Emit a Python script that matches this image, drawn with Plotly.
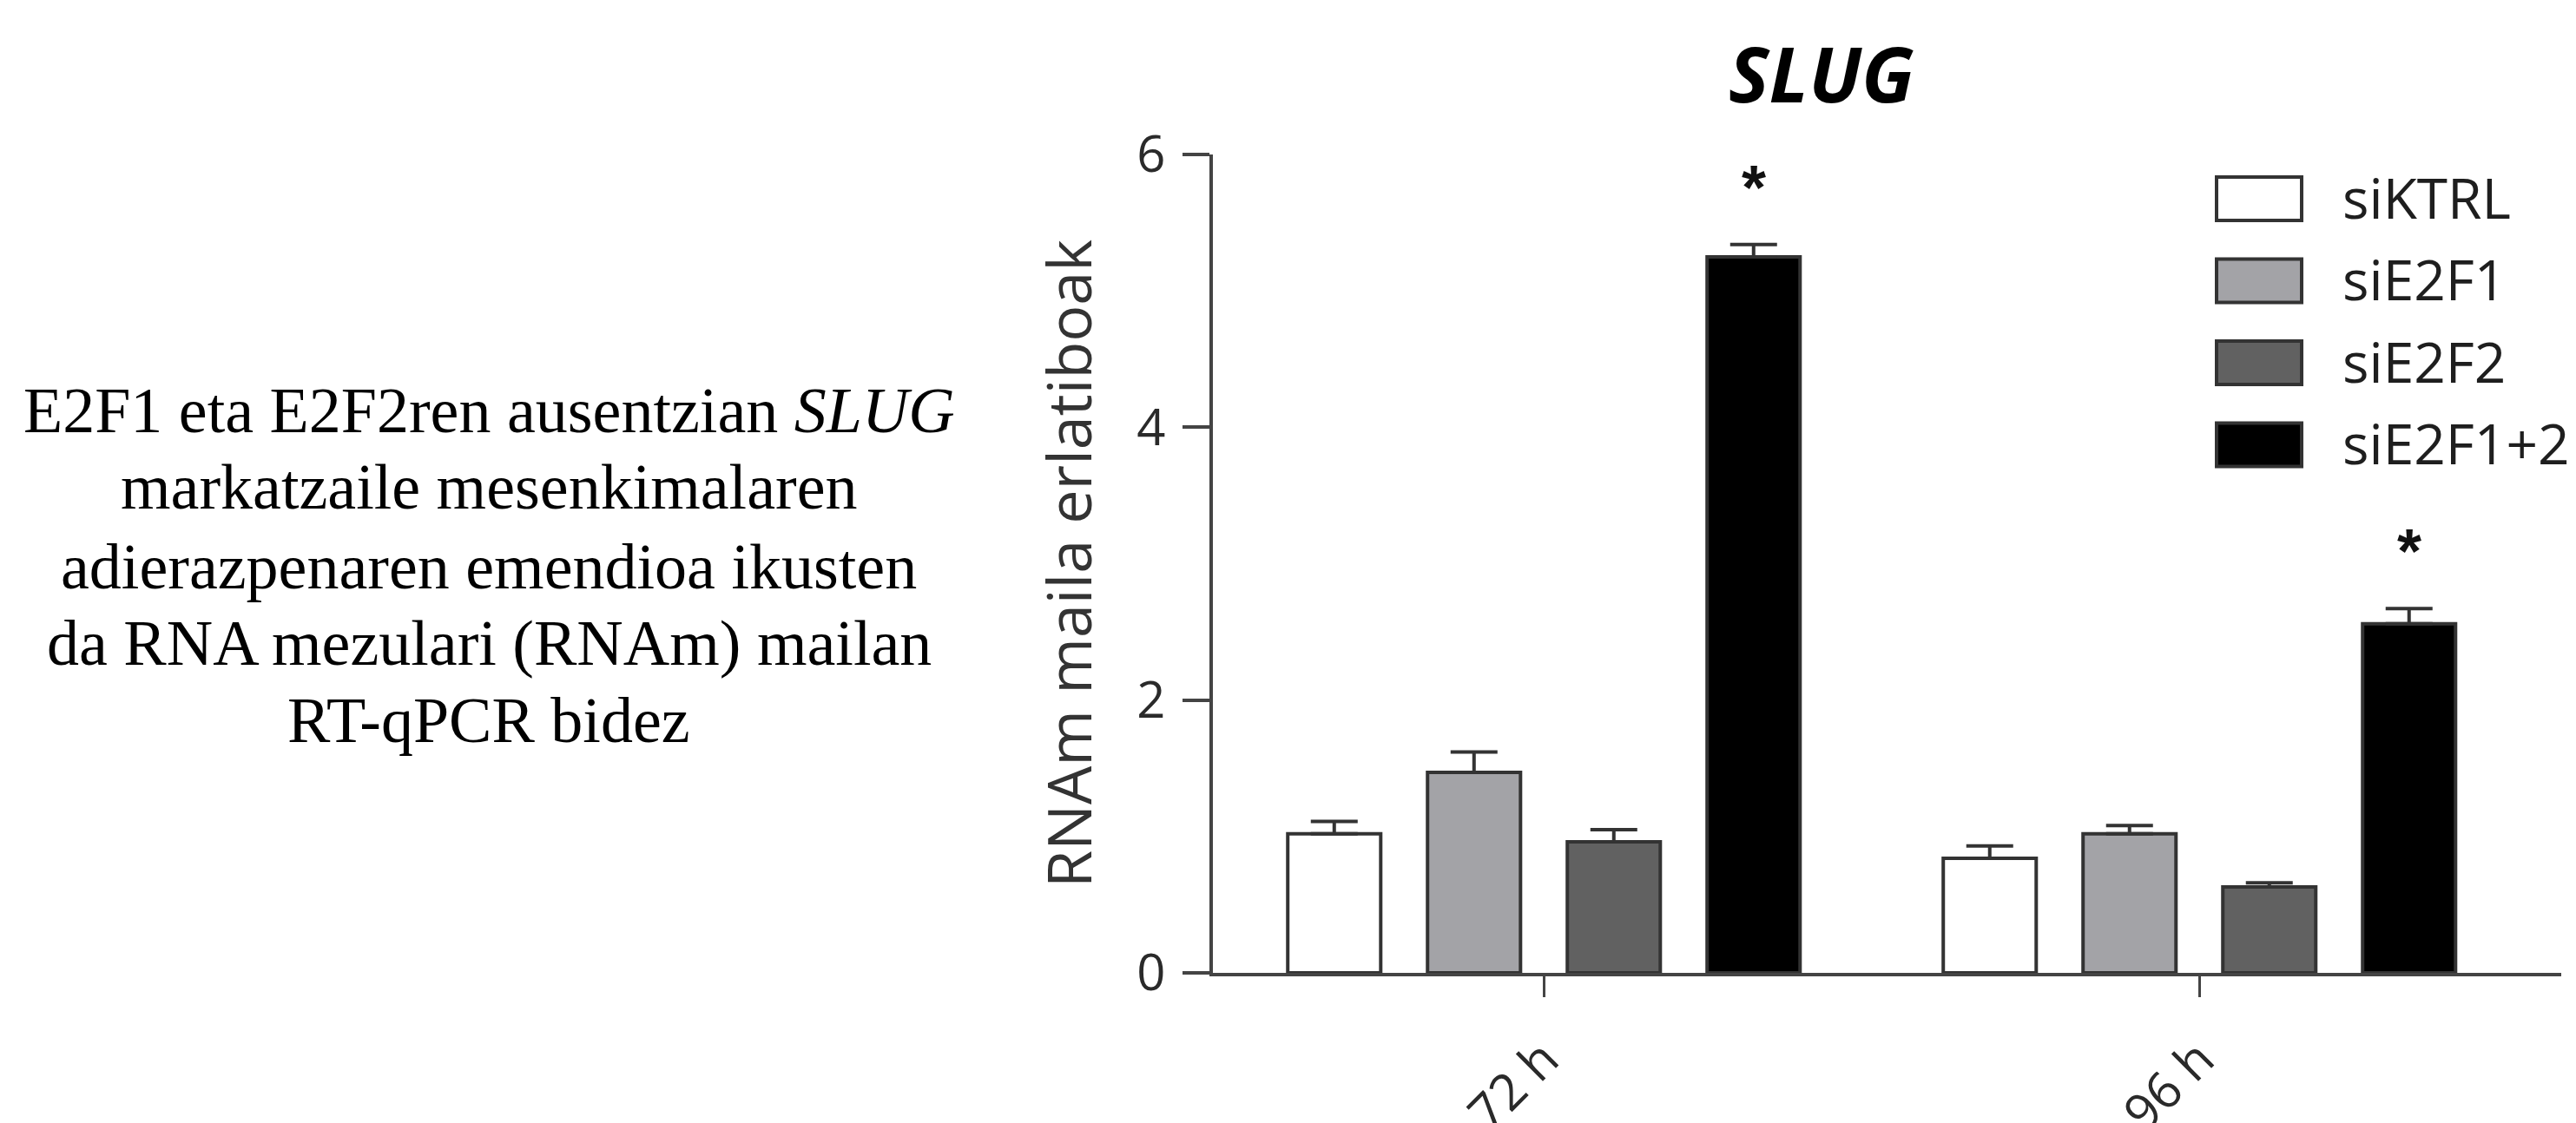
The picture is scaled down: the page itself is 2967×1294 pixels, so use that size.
import plotly.graph_objects as go

# ---------------- data ----------------
categories = ["72 h", "96 h"]
series_names = ["siKTRL", "siE2F1", "siE2F2", "siE2F1+2"]
siKTRL = [1.02, 0.84]
siE2F1 = [1.47, 1.02]
siE2F2 = [0.96, 0.63]
siE2F1_2 = [5.25, 2.56]
siKTRL_err = [0.09, 0.09]
siE2F1_err = [0.15, 0.06]
siE2F2_err = [0.09, 0.03]
siE2F1_2_err = [0.09, 0.11]
significance = ["", "", "", "*"]          # per series, marks both time points
y_tick_vals = [0, 2, 4, 6]
title_text = "<b><i>SLUG</i></b>"
y_title = "RNAm maila erlatiboak"
caption_lines = [
    "E2F1 eta E2F2ren ausentzian <i>SLUG</i>",
    "markatzaile mesenkimalaren",
    "adierazpenaren emendioa ikusten",
    "da RNA mezulari (RNAm) mailan",
    "RT-qPCR bidez",
]

values = [siKTRL, siE2F1, siE2F2, siE2F1_2]
errors = [siKTRL_err, siE2F1_err, siE2F2_err, siE2F1_2_err]
colors = ["#ffffff", "#a3a3a7", "#616161", "#000000"]
edge = "#333333"

# ---------------- layout geometry (pixels) ----------------
W, H = 2967, 1294
PL, PR, PT, PB = 1389, 2942, 170, 1113
BARGAP = 0.147
BARGROUPGAP = 0.335

def fx(px):
    return (px - PL) / (PR - PL)

def fy(py):
    return (PB - py) / (PB - PT)

xpos = list(range(len(categories)))

fig = go.Figure()
for name, vals, errs, col in zip(series_names, values, errors, colors):
    fig.add_trace(go.Bar(
        x=xpos, y=vals, name=name,
        marker=dict(color=col, line=dict(color=edge, width=4)),
        error_y=dict(type="data", array=errs, arrayminus=[0] * len(errs),
                     symmetric=False, color=edge, thickness=4, width=27),
        showlegend=False,
    ))

annotations = []
# significance asterisks
n = len(series_names)
slot = (1 - BARGAP) / n
for i, (mark, vals, errs) in enumerate(zip(significance, values, errors)):
    if not mark:
        continue
    for g, (v, e) in enumerate(zip(vals, errs)):
        annotations.append(dict(
            x=xpos[g] + (i - (n - 1) / 2) * slot, y=v + e, xref="x", yref="y",
            text="<b>" + mark + "</b>", showarrow=False,
            font=dict(family="Liberation Sans", size=72, color="#111111"),
            xanchor="center", yanchor="middle", yshift=66,
        ))

# title
annotations.append(dict(
    x=fx(2090), y=fy(76), xref="paper", yref="paper", text=title_text,
    showarrow=False, xanchor="center", yanchor="middle",
    font=dict(family="Open Sans", size=88, color="#000000"),
))

# legend (drawn manually so that the swatches have the reference size)
shapes = []
leg_x0, leg_x1 = 2545, 2643
leg_y0, leg_dy, leg_h = 221, 94.5, 50
for i, (name, col) in enumerate(zip(series_names, colors)):
    cy = leg_y0 + i * leg_dy
    shapes.append(dict(
        type="rect", xref="paper", yref="paper",
        x0=fx(leg_x0), x1=fx(leg_x1), y0=fy(cy + leg_h / 2), y1=fy(cy - leg_h / 2),
        fillcolor=col, line=dict(color=edge, width=4),
    ))
    annotations.append(dict(
        x=fx(2688), y=fy(cy - 2), xref="paper", yref="paper", text=name,
        showarrow=False, xanchor="left", yanchor="middle",
        font=dict(family="Open Sans", size=64, color="#1e1e1e"),
    ))

# caption at left
baselines = [490, 578, 670, 758, 847]
for line, base in zip(caption_lines, baselines):
    annotations.append(dict(
        x=fx(555), y=fy(base - 25), xref="paper", yref="paper", text=line,
        showarrow=False, xanchor="center", yanchor="middle",
        font=dict(family="Liberation Serif", size=74, color="#000000"),
    ))

fig.update_layout(
    width=W, height=H,
    margin=dict(l=PL, r=W - PR, t=PT, b=H - PB, pad=0),
    paper_bgcolor="white", plot_bgcolor="white",
    barmode="group", bargap=BARGAP, bargroupgap=BARGROUPGAP,
    annotations=annotations, shapes=shapes,
    font=dict(family="Open Sans", color="#333333"),
)
fig.update_xaxes(
    range=[-0.505, 1.552], tickvals=xpos, ticktext=categories,
    tickangle=-45, ticks="outside", ticklen=24, tickwidth=3, tickcolor="#444444",
    showline=True, linewidth=4, linecolor="#444444", showgrid=False, zeroline=False,
    tickfont=dict(family="Open Sans", size=58, color="#2a2a2a"),
    ticklabelstandoff=14, automargin=False,
)
fig.update_yaxes(
    range=[0, 6], tickvals=y_tick_vals, ticktext=[str(v) for v in y_tick_vals],
    ticks="outside", ticklen=31, tickwidth=4, tickcolor="#444444",
    showline=True, linewidth=4, linecolor="#444444", showgrid=False, zeroline=False,
    tickfont=dict(family="Open Sans", size=58, color="#2a2a2a"),
    ticklabelstandoff=8,
    title=dict(text=y_title, standoff=30,
               font=dict(family="Open Sans", size=70, color="#333333")),
    automargin=False,
)

fig.write_html("out.html")
